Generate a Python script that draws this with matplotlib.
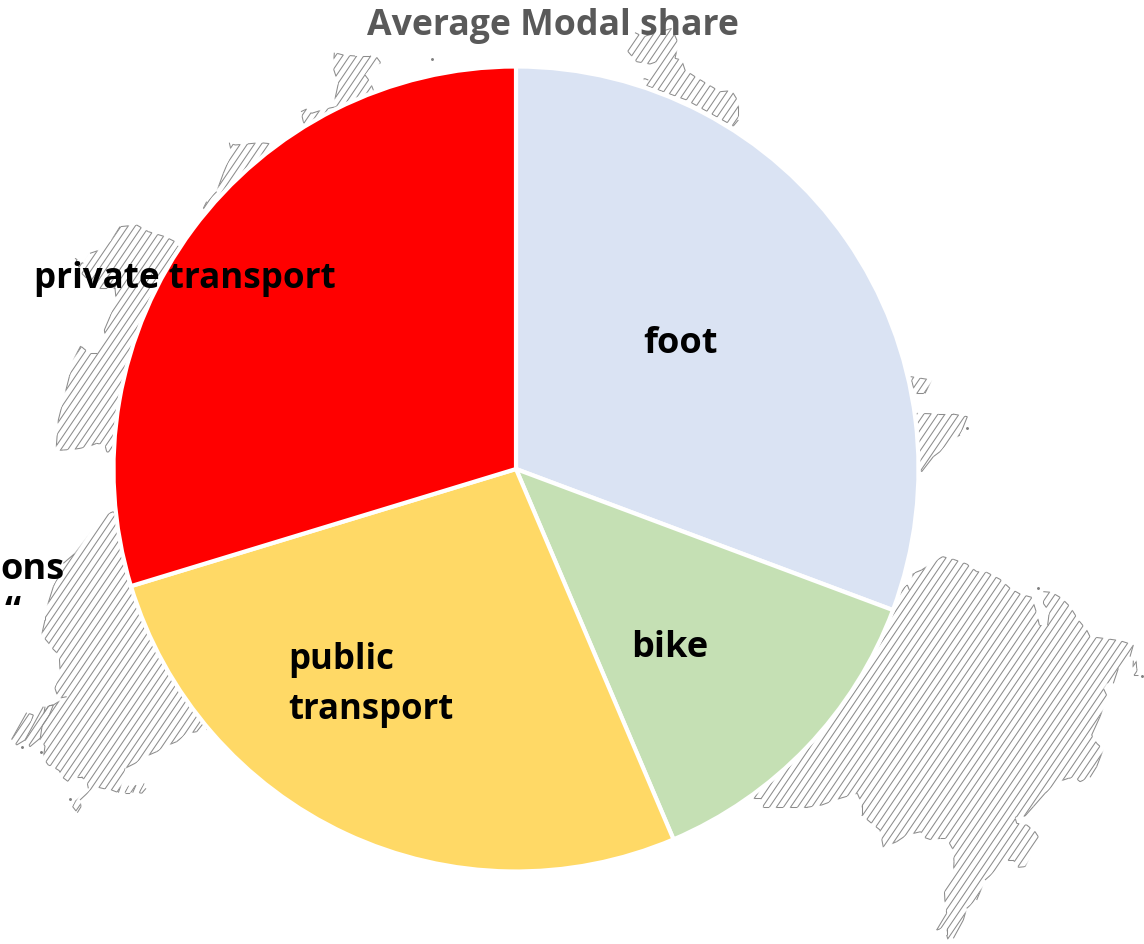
import numpy as np
import matplotlib
matplotlib.use('Agg')
import matplotlib.pyplot as plt
from matplotlib.collections import LineCollection
from matplotlib.patches import Polygon
from matplotlib.path import Path

plt.rcParams['font.family'] = ['Open Sans', 'DejaVu Sans']

labels = ['foot', 'bike', 'public\ntransport', 'private transport']
shares = [30.7, 12.9, 26.7, 29.7]
colors = ['#DAE3F3', '#C5E0B4', '#FFD966', '#FF0000']

# map outlines in crop pixels: (crop x, crop y, scale, points)
map_right = (750, 540, 3, [(430, 200), (455, 145), (472, 135), (478, 150), (490, 100), (515, 90), (545, 70), (578, 50),
    (610, 58), (650, 72), (680, 95), (710, 97), (750, 118), (780, 145), (810, 162), (845, 172), (860, 220), (868, 255),
    (893, 255), (898, 215), (880, 190), (880, 155), (905, 157), (935, 175), (960, 200), (985, 240), (1010, 270),
    (1020, 290), (1060, 295), (1110, 302), (1150, 315), (1140, 350), (1105, 385), (1090, 430), (1070, 430), (1060, 445),
    (1072, 470), (1050, 530), (1025, 585), (1040, 610), (1060, 628), (1040, 680), (1020, 712), (990, 725), (975, 712),
    (955, 715), (925, 725), (885, 760), (850, 800), (825, 828), (795, 832), (800, 850), (830, 855), (855, 875), (868, 895),
    (840, 950), (825, 980), (805, 982), (790, 960), (768, 960), (745, 985), (705, 1020), (680, 1080), (650, 1105),
    (640, 1140), (610, 1195), (597, 1210), (590, 1185), (590, 1160), (560, 1170), (590, 1120), (585, 1085), (583, 1050),
    (610, 1010), (612, 965), (610, 930), (590, 895), (570, 895), (545, 900), (525, 893), (512, 875), (470, 885), (440, 905),
    (400, 922), (390, 870), (365, 850), (335, 825), (335, 790), (322, 760), (270, 775), (215, 795), (170, 802), (40, 802),
    (33, 775), (0, 775), (0, 300), (300, 150)])
isle_right = (750, 540, 3, [(1150, 362), (1158, 356), (1160, 385), (1165, 405), (1148, 405)])
map_left = (0, 500, 3, [(340, 35), (315, 45), (270, 100), (225, 160), (190, 190), (160, 260), (135, 340), (135, 360),
    (125, 405), (145, 428), (152, 440), (170, 458), (178, 470), (180, 510), (165, 565), (175, 595), (200, 590), (160, 615),
    (135, 620), (120, 720), (135, 738), (130, 775), (145, 795), (158, 800), (178, 812), (185, 830), (205, 845), (225, 830),
    (245, 830), (262, 850), (265, 865), (240, 890), (225, 905), (218, 920), (232, 938), (243, 920), (240, 900), (270, 872),
    (295, 862), (320, 868), (335, 870), (355, 878), (372, 830), (375, 805), (405, 790), (435, 770), (470, 755), (500, 737),
    (530, 725), (560, 700), (590, 695), (610, 670), (620, 690), (700, 500), (450, 200)])
isle_left_a = (0, 500, 3, [(35, 718), (80, 638), (100, 645), (75, 720), (50, 735)])
isle_left_b = (0, 500, 3, [(75, 720), (130, 620), (160, 615), (120, 715), (90, 740)])
isle_left_c = (0, 500, 3, [(375, 878), (385, 858), (408, 855), (398, 878)])
isle_left_d = (0, 500, 3, [(418, 878), (432, 850), (438, 865), (425, 880)])
map_west = (40, 40, 3, [(600, 900), (405, 605), (375, 590), (325, 575), (290, 555), (240, 560), (215, 600), (185, 628),
    (150, 640), (130, 670), (105, 655), (125, 700), (170, 745), (225, 745), (228, 775), (210, 830), (193, 870), (197, 895),
    (170, 940), (148, 940), (122, 918), (100, 960), (88, 1010), (55, 1140), (48, 1232), (70, 1230), (100, 1228), (120, 1225),
    (150, 1218), (170, 1210), (195, 1215), (200, 1235), (215, 1240), (400, 1240)])
map_nw_a = (40, 40, 3, [(490, 505), (500, 485), (530, 455), (550, 400), (575, 340), (568, 308), (585, 315), (620, 312),
    (660, 308), (700, 312), (650, 500), (500, 520)])
map_nw_b = (40, 40, 3, [(790, 245), (783, 215), (800, 207), (815, 220), (855, 207), (890, 200), (880, 250), (820, 300)])
map_nw_c = (40, 40, 3, [(880, 200), (895, 130), (880, 85), (883, 38), (910, 45), (945, 48), (990, 48), (1010, 52),
    (1022, 68), (988, 88), (975, 105), (990, 125), (1000, 150), (1000, 250)])
map_north = (620, 20, 3, [(20, 90), (45, 38), (70, 50), (155, 25), (175, 70), (165, 115), (185, 120), (195, 150),
    (225, 170), (250, 185), (275, 200), (300, 215), (335, 212), (355, 245), (355, 300), (340, 318), (200, 240), (75, 195),
    (72, 175), (85, 180), (110, 125), (90, 132), (50, 125)])
map_east_a = (880, 360, 3, [(112, 160), (175, 162), (218, 162), (262, 170), (240, 225), (215, 240), (180, 275), (160, 290),
    (125, 335), (100, 300), (90, 170)])
map_east_b = (880, 360, 3, [(92, 50), (155, 60), (135, 100), (105, 100)])
map_parts = [map_right, isle_right, map_left, isle_left_a, isle_left_b, isle_left_c, isle_left_d, map_west,
             map_nw_a, map_nw_b, map_nw_c, map_north, map_east_a, map_east_b]
dots_x = [432, 1038, 967, 1142, 22, 41, 70]
dots_y = [59, 588, 428, 676, 747, 752, 799]

FIG_H = 944
LINE_COL = '#8c8c8c'
LINE_W = 0.75
SLOPE = 0.68   # hatch lines lean this much in x per unit of y
STEP = 7.05
FIRST = 669.3   # x of one hatch line at y = 0


def to_px(part):
    x0, y0, scale, pts = part
    pts = np.array(pts, dtype=float)
    return np.column_stack([x0 + pts[:, 0] / scale, FIG_H - (y0 + pts[:, 1] / scale)])


def band_clip(first):
    # every second band between hatch lines, one path for the whole figure
    paths = []
    for n in np.arange(first - 200, 200, 2):
        c1 = FIRST + n * STEP
        c2 = c1 + STEP
        paths.append(Path([(c1, 0), (c1 + SLOPE * FIG_H, FIG_H), (c2 + SLOPE * FIG_H, FIG_H), (c2, 0), (c1, 0)], closed=True))
    return Path.make_compound_path(*paths)


def draw_map(ax, part, clip_top, clip_bottom):
    xy = to_px(part)
    x, y = xy[:, 0], xy[:, 1]
    cs = x - SLOPE * y
    ks = np.arange(np.floor((cs.min() - FIRST) / STEP), np.ceil((cs.max() - FIRST) / STEP) + 1)
    segs = [[(FIRST + k * STEP, 0), (FIRST + k * STEP + SLOPE * FIG_H, FIG_H)] for k in ks]
    patch = Polygon(xy, closed=True, fill=False, edgecolor='none', transform=ax.transData)
    ax.add_patch(patch)
    hatch = LineCollection(segs, colors=LINE_COL, linewidths=LINE_W, zorder=1)
    ax.add_collection(hatch)
    hatch.set_clip_path(patch)

    # outline: the upper and lower edges close opposite pairs of lines, which makes the zigzag
    area = np.sum(x * np.roll(y, -1) - np.roll(x, -1) * y)
    dc = np.roll(cs, -1) - cs
    lower = dc * np.sign(area) > 0
    edges = np.stack([xy, np.roll(xy, -1, axis=0)], axis=1)
    for mask, clip in ((lower, clip_bottom), (~lower, clip_top)):
        lc = LineCollection(edges[mask], colors=LINE_COL, linewidths=LINE_W, zorder=1)
        ax.add_collection(lc)
        lc.set_clip_path(clip, ax.transData)


fig = plt.figure(figsize=(11.44, 9.44), dpi=100)
ax = fig.add_axes([0, 0, 1, 1])

ax.pie(shares, colors=colors, startangle=90, counterclock=False, center=(516, FIG_H - 469), radius=402.5,
       wedgeprops={'edgecolor': 'white', 'linewidth': 3, 'zorder': 2}, frame=True)
ax.set_xlim(0, 1144)
ax.set_ylim(0, FIG_H)
ax.axis('off')

clip_odd = band_clip(1)
clip_even = band_clip(0)
for part in map_parts:
    draw_map(ax, part, clip_odd, clip_even)
ax.plot(dots_x, FIG_H - np.array(dots_y), ls='none', marker='o', ms=1.1, color='#808080', zorder=1)

ax.text(552.5, FIG_H - 26, 'Average Modal share', color='#595959', fontsize=25.7, fontweight='bold',
        ha='center', va='center', zorder=5)
ax.text(681, FIG_H - 344, labels[0], color='black', fontsize=26, fontweight='bold', ha='center', va='center', zorder=5)
ax.text(670, FIG_H - 648, labels[1], color='black', fontsize=26, fontweight='bold', ha='center', va='center', zorder=5)
ax.text(288, FIG_H - 685, labels[2], color='black', fontsize=25, fontweight='bold', ha='left', va='center',
        linespacing=1.5, zorder=5)
ax.text(185, FIG_H - 279, labels[3], color='black', fontsize=25.2, fontweight='bold', ha='center', va='center', zorder=5)
ax.text(65, FIG_H - 570, 'ons', color='black', fontsize=26, fontweight='bold', ha='right', va='center', zorder=5)
ax.text(21, FIG_H - 613, '\u201c', color='black', fontsize=26, fontweight='bold', ha='right', va='center', zorder=5)

fig.savefig('out.png', dpi=100)
